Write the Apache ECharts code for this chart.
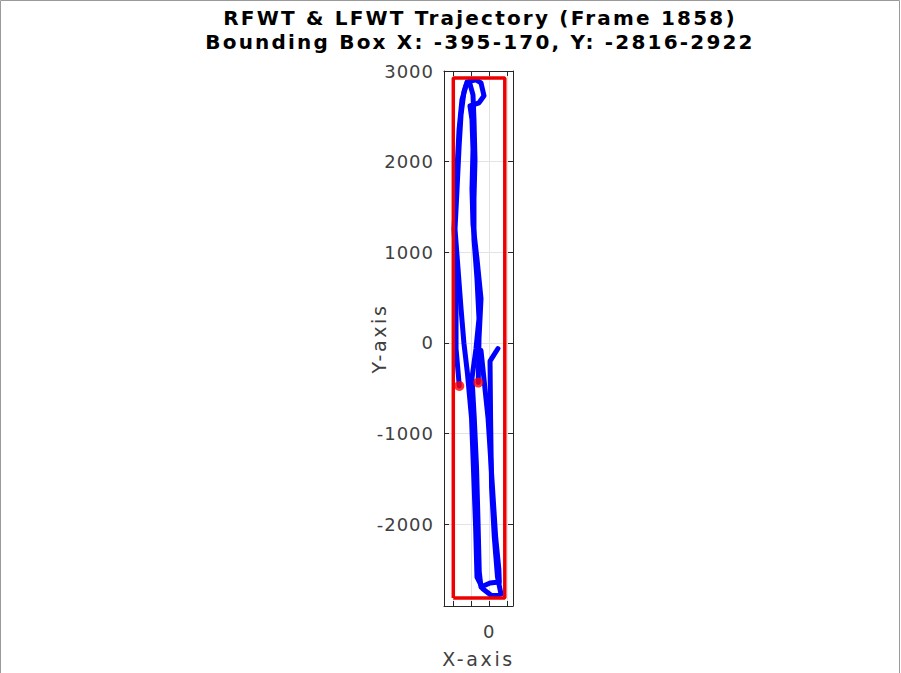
<!DOCTYPE html>
<html>
<head>
<meta charset="utf-8">
<script src="https://cdn.jsdelivr.net/npm/echarts@6/dist/echarts.min.js"></script>
<style>
html,body{margin:0;padding:0;background:#fff;}
#main{width:901px;height:673px;}
</style>
</head>
<body>
<div id="main"></div>
<script>
// ---- data ----
const titleLines = ['RFWT & LFWT Trajectory (Frame 1858)', 'Bounding Box X: -395-170, Y: -2816-2922'];
const xTicks = [-400, -200, 0, 200];
const xTickLabels = [0];
const yTicks = [-2000, -1000, 0, 1000, 2000, 3000];

// trajectory 1
const footAX = [95, 8, 14, 25, 55, 90, 128, 30, -69, -135, -150, -170, -195, -240, -278, -310, -343, -376, -354, -332, -310, -278, -245, -146, -91, -58, -113, -212, -190, -179, -190, -179, -135, -91, -113, -121];
const footAY = [-63, -203, -829, -1598, -2147, -2586, -2773, -2795, -2718, -2586, -2037, -1488, -829, -335, -8, 376, 816, 1255, 1694, 2155, 2518, 2770, 2880, 2902, 2869, 2726, 2649, 2616, 2463, 2133, 1694, 1310, 926, 486, 47, -439];
// trajectory 2
const footBX = [-91, -14, 35, 70, 105, 110, 8, -91, -110, -125, -140, -165, -190, -146, -113, -135, -168, -168, -157, -168, -179, -212, -256, -300, -332, -354, -387, -365, -365, -365, -329];
const footBY = [-85, -829, -1598, -2147, -2500, -2641, -2652, -2696, -2531, -1928, -1379, -829, -390, -63, 267, 706, 1145, 1584, 2023, 2463, 2737, 2858, 2836, 2682, 2353, 1914, 1255, 816, 376, -63, -476];
// bounding box
const boxX = [-395, 170, 170, -395, -395];
const boxY = [-2816, -2816, 2922, 2922, -2816];
// current positions
const dotX = [-329, -121];
const dotY = [-476, -439];

const zip = (a, b) => a.map((v, i) => [v, b[i]]);

const chart = echarts.init(document.getElementById('main'), null, {renderer: 'svg'});
const FONT = 'DejaVu Sans';
const axisCol = '#262626';
const gridCol = '#e3e3e3';
const labelCol = '#404040';
const xRange = {min: -497, max: 260};
const yRange = {min: -2905, max: 3000};

chart.setOption({
  animation: false,
  backgroundColor: '#ffffff',
  grid: {left: 444, top: 71, width: 69, height: 538, containLabel: false},
  graphic: [
    {type: 'rect', shape: {x: 0.5, y: 0.5, width: 899, height: 700}, style: {fill: 'none', stroke: '#9a9a9a', lineWidth: 1}, silent: true},
    {type: 'text', x: 480, y: 18, style: {text: titleLines[0], font: 'bold 20px "DejaVu Sans"', fill: '#000', align: 'center', verticalAlign: 'middle'}},
    {type: 'text', x: 480, y: 42, style: {text: titleLines[1], font: 'bold 20px "DejaVu Sans"', fill: '#000', align: 'center', verticalAlign: 'middle'}}
  ],
  xAxis: [
    {type: 'value', position: 'bottom', ...xRange,
     name: 'X-axis', nameLocation: 'middle', nameGap: 43, nameMoveOverlap: false,
     nameTextStyle: {fontFamily: FONT, fontSize: 19, color: labelCol},
     axisLine: {show: true, onZero: false, lineStyle: {color: axisCol, width: 1}},
     axisTick: {show: true, inside: true, length: 5, customValues: xTicks, lineStyle: {color: axisCol}},
     axisLabel: {show: true, customValues: xTickLabels, margin: 16, fontFamily: FONT, fontSize: 18, color: labelCol,
                 formatter: v => String(v)},
     splitLine: {show: true, lineStyle: {color: gridCol, width: 1}}},
    {type: 'value', position: 'top', ...xRange,
     axisLine: {show: true, onZero: false, lineStyle: {color: axisCol, width: 1}},
     axisTick: {show: true, inside: true, length: 5, customValues: xTicks, lineStyle: {color: axisCol}},
     axisLabel: {show: false},
     splitLine: {show: false}}
  ],
  yAxis: [
    {type: 'value', position: 'left', ...yRange,
     name: 'Y-axis', nameLocation: 'middle', nameGap: 56, nameRotate: 90, nameMoveOverlap: false,
     nameTextStyle: {fontFamily: FONT, fontSize: 19, color: labelCol},
     axisLine: {show: true, onZero: false, lineStyle: {color: axisCol, width: 1}},
     axisTick: {show: true, inside: true, length: 5, customValues: yTicks, lineStyle: {color: axisCol}},
     axisLabel: {show: true, customValues: yTicks, margin: 10, fontFamily: FONT, fontSize: 18, color: labelCol,
                 formatter: v => String(v)},
     splitLine: {show: true, lineStyle: {color: gridCol, width: 1}}},
    {type: 'value', position: 'right', ...yRange,
     axisLine: {show: true, onZero: false, lineStyle: {color: axisCol, width: 1}},
     axisTick: {show: true, inside: true, length: 5, customValues: yTicks, lineStyle: {color: axisCol}},
     axisLabel: {show: false},
     splitLine: {show: false}}
  ],
  series: [
    {type: 'line', name: 'RFWT', data: zip(footAX, footAY), showSymbol: false, xAxisIndex: 0, yAxisIndex: 0,
     lineStyle: {color: '#0000ff', width: 5, cap: 'round', join: 'round'}, z: 2},
    {type: 'line', name: 'LFWT', data: zip(footBX, footBY), showSymbol: false, xAxisIndex: 0, yAxisIndex: 0,
     lineStyle: {color: '#0000ff', width: 5, cap: 'round', join: 'round'}, z: 2},
    {type: 'line', name: 'Box', data: zip(boxX, boxY), showSymbol: false, xAxisIndex: 0, yAxisIndex: 0,
     lineStyle: {color: '#ee0000', width: 3.5}, z: 3},
    {type: 'scatter', name: 'Current', data: zip(dotX, dotY), symbol: 'circle', symbolSize: 10,
     itemStyle: {color: '#ff0000'}, z: 4}
  ]
});

function applySpacing() {
  document.querySelectorAll('#main svg text').forEach(t => {
    const s = t.textContent;
    let ls = '1px';
    if (titleLines.includes(s)) ls = '2.2px';
    else if (s === 'X-axis' || s === 'Y-axis') ls = '2.6px';
    t.style.letterSpacing = ls;
  });
}
chart.on('finished', applySpacing);
applySpacing();
setTimeout(applySpacing, 0);
</script>
</body>
</html>
